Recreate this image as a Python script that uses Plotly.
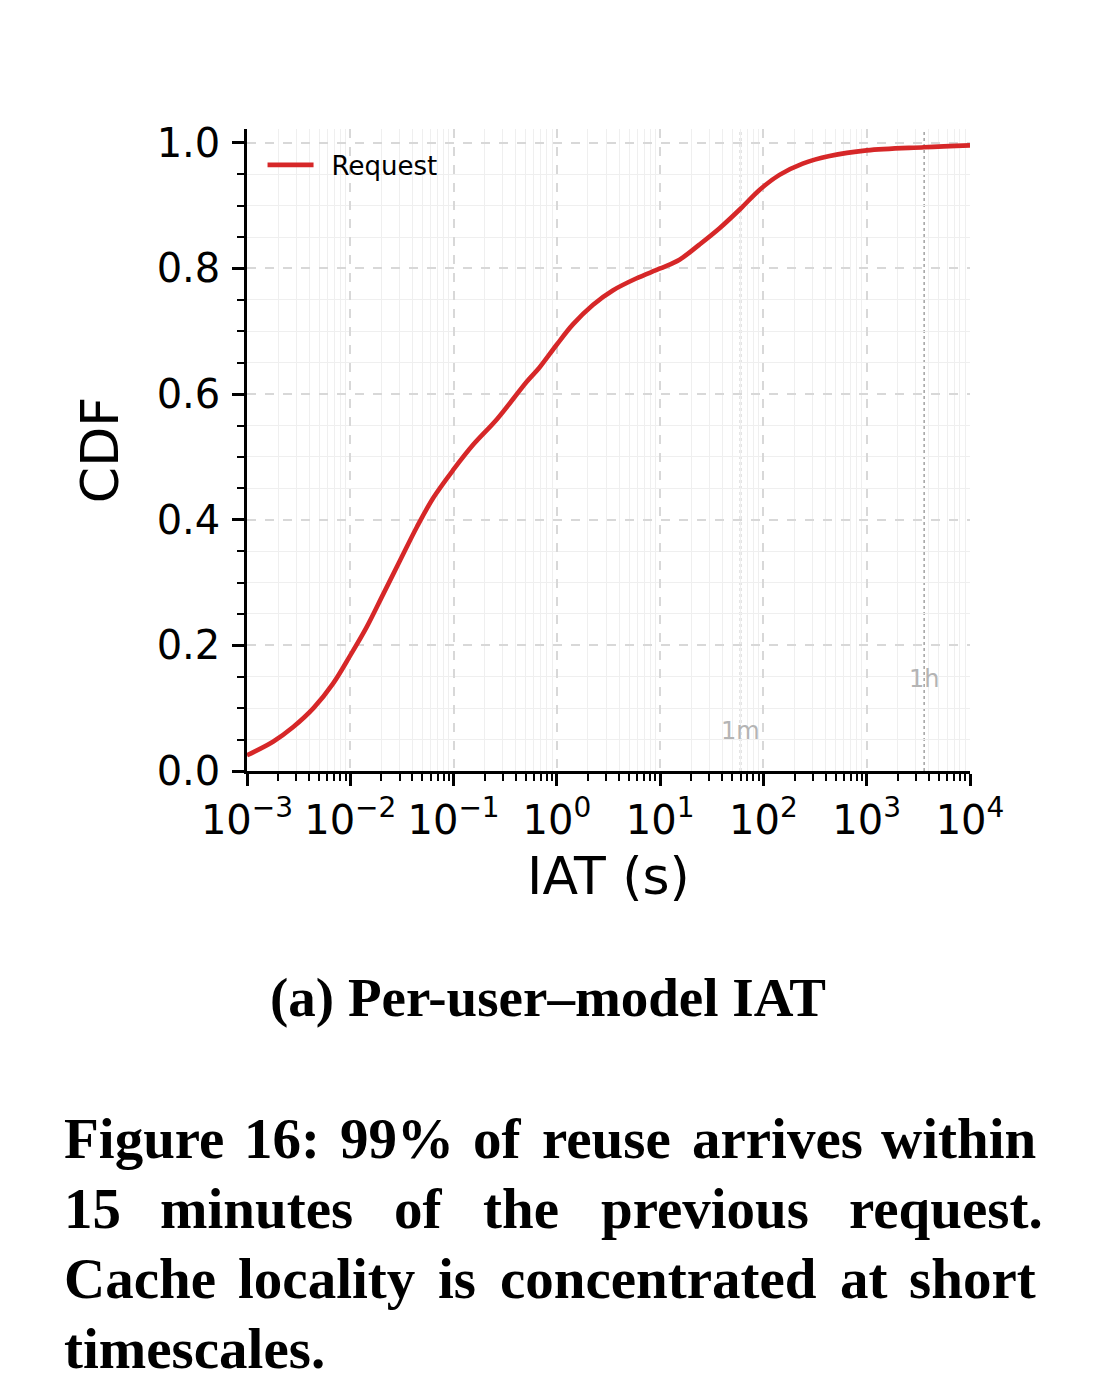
import math
import plotly.graph_objects as go

# ---------------- data ----------------
iat_seconds = [0.001, 0.0018, 0.0028, 0.0044, 0.0068, 0.010, 0.0144, 0.0209, 0.0303,
               0.044, 0.0637, 0.1, 0.156, 0.263, 0.513, 0.676, 1.0, 1.43, 2.23, 3.48,
               5.86, 10, 15.4, 24.0, 37.6, 60, 91.6, 143, 240, 437, 1000, 3600, 10000]
cdf_request = [0.025, 0.047, 0.070, 0.100, 0.139, 0.184, 0.229, 0.282, 0.335,
               0.388, 0.435, 0.480, 0.520, 0.560, 0.620, 0.642, 0.679, 0.711, 0.742, 0.765,
               0.784, 0.800, 0.814, 0.838, 0.864, 0.895, 0.925, 0.949, 0.967, 0.979,
               0.988, 0.993, 0.996]
series_name = "Request"

x_major_vals = [1e-3, 1e-2, 1e-1, 1e0, 1e1, 1e2, 1e3, 1e4]
x_major_text = ["10<sup>−3</sup>", "10<sup>−2</sup>", "10<sup>−1</sup>", "10<sup>0</sup>",
                "10<sup>1</sup>", "10<sup>2</sup>", "10<sup>3</sup>", "10<sup>4</sup>"]
x_minor_vals = [k * 10.0 ** e for e in range(-3, 4) for k in range(2, 10)]
y_major_vals = [0.0, 0.2, 0.4, 0.6, 0.8, 1.0]
y_major_text = ["0.0", "0.2", "0.4", "0.6", "0.8", "1.0"]
y_minor_vals = [0.05, 0.1, 0.15, 0.25, 0.3, 0.35, 0.45, 0.5, 0.55, 0.65, 0.7, 0.75,
                0.85, 0.9, 0.95]

ref_lines_s = [60, 3600]
ref_labels = ["1m", "1h"]
ref_label_y = [0.064, 0.146]

subcaption = "(a) Per-user–model IAT"
caption_line1_words = ["Figure", "16:", "99%", "of", "reuse", "arrives", "within"]
caption_line2_words = ["15", "minutes", "of", "the", "previous", "request."]
caption_line3_words = ["Cache", "locality", "is", "concentrated", "at", "short"]
caption_line4_words = ["timescales."]

# ---------------- layout geometry (screen pixels, page body has 8px margin) ----------------
OFF = 8
W, H = 1101 - 2 * OFF, 1395 - 2 * OFF
L, R, T, B = 247 - OFF, 970 - OFF, 129 - OFF, 771 - OFF


def px(xs):
    return (xs - OFF - L) / (R - L)


def py(ys):
    return (B - (ys - OFF)) / (B - T)


# approximate bold serif (Times-Bold-compatible) advance widths, per 1000 em
BOLD_W = {'F': 611, 'C': 722, 'a': 500, 'c': 444, 'd': 556, 'e': 444, 'f': 333, 'g': 500,
          'h': 556, 'i': 278, 'l': 278, 'm': 833, 'n': 556, 'o': 500, 'p': 556, 'q': 556,
          'r': 444, 's': 389, 't': 333, 'u': 556, 'v': 500, 'w': 722, 'y': 500,
          '1': 500, '5': 500, '6': 500, '9': 500, '%': 1000, ':': 333, '.': 250}


def word_width(word, size):
    return sum(BOLD_W.get(ch, 500) for ch in word) * size / 1000.0


fig = go.Figure()
fig.add_trace(go.Scatter(
    x=iat_seconds, y=cdf_request, mode="lines", name="\u2002" + series_name,
    line=dict(color="#d62728", width=4.6, shape="spline", smoothing=1.0),
))

for xv in ref_lines_s:
    fig.add_shape(type="line", x0=xv, x1=xv, y0=0, y1=1, xref="x", yref="paper",
                  line=dict(color="#a8a8a8", width=1.6, dash="dot"), layer="below")
for xv, lab, yv in zip(ref_lines_s, ref_labels, ref_label_y):
    fig.add_annotation(x=math.log10(xv), y=yv, xref="x", yref="y", text=lab, showarrow=False,
                       font=dict(family="DejaVu Sans", size=24, color="#b4b4b4"),
                       xanchor="center", yanchor="middle")

axis_common = dict(
    showline=True, linecolor="black", linewidth=2.5, mirror=False,
    ticks="outside", ticklen=12, tickwidth=2.5, tickcolor="black",
    tickfont=dict(family="DejaVu Sans", size=40, color="black"),
    showgrid=True, gridcolor="#d8d8d8", gridwidth=1.5, griddash="dash",
    zeroline=False,
)

fig.update_xaxes(
    type="log", range=[-3, 4], tickmode="array", tickvals=x_major_vals, ticktext=x_major_text,
    minor=dict(tickmode="array", tickvals=x_minor_vals, ticks="outside", ticklen=7,
               tickwidth=2, tickcolor="black", showgrid=True, gridcolor="#efefef",
               gridwidth=1, griddash="solid"),
    title=dict(text="IAT (s)", font=dict(family="DejaVu Sans", size=52, color="black"),
               standoff=16),
    **axis_common,
)
fig.update_yaxes(
    range=[0, 1.022], tickmode="array", tickvals=y_major_vals, ticktext=y_major_text,
    ticklabelstandoff=4,
    minor=dict(tickmode="array", tickvals=y_minor_vals, ticks="outside", ticklen=7,
               tickwidth=2, tickcolor="black", showgrid=True, gridcolor="#efefef",
               gridwidth=1, griddash="solid"),
    title=dict(text="CDF", font=dict(family="DejaVu Sans", size=52, color="black"),
               standoff=22),
    **axis_common,
)

CAP_SIZE = 57
serif = dict(family="Liberation Serif", size=CAP_SIZE, color="black")

fig.add_annotation(x=px(548), y=py(998), xref="paper", yref="paper", text="<b>" + subcaption + "</b>",
                   showarrow=False, xanchor="center", yanchor="middle",
                   font=dict(family="Liberation Serif", size=55, color="black"))

# justified caption: left edge, right edge, centre y (screen px)
caption_rows = [
    (caption_line1_words, 62, 1038, 1138, True),
    (caption_line2_words, 62, 1045, 1208, True),
    (caption_line3_words, 62, 1038, 1278, True),
    (caption_line4_words, 62, None, 1348, False),
]
for words, x_left, x_right, yc, justified in caption_rows:
    widths = [word_width(w, CAP_SIZE) for w in words]
    if justified and len(words) > 1:
        gap = (x_right - x_left - sum(widths)) / (len(words) - 1)
    else:
        gap = 0.25 * CAP_SIZE
    xcur = x_left
    for i, (wd, ww) in enumerate(zip(words, widths)):
        if justified and i == len(words) - 1:
            fig.add_annotation(x=px(x_right), y=py(yc), xref="paper", yref="paper",
                               text="<b>" + wd + "</b>", showarrow=False,
                               xanchor="right", yanchor="middle", font=serif)
        elif i == 0:
            fig.add_annotation(x=px(x_left), y=py(yc), xref="paper", yref="paper",
                               text="<b>" + wd + "</b>", showarrow=False,
                               xanchor="left", yanchor="middle", font=serif)
        else:
            fig.add_annotation(x=px(xcur + ww / 2), y=py(yc), xref="paper", yref="paper",
                               text="<b>" + wd + "</b>", showarrow=False,
                               xanchor="center", yanchor="middle", font=serif)
        xcur += ww + gap

fig.update_layout(
    width=W, height=H,
    margin=dict(l=L, r=W - R, t=T, b=H - B, pad=0),
    paper_bgcolor="white", plot_bgcolor="white",
    showlegend=True,
    legend=dict(x=0.0215, y=0.9805, xanchor="left", yanchor="top", bgcolor="rgba(0,0,0,0)",
                itemwidth=46,
                font=dict(family="DejaVu Sans", size=26, color="black"), borderwidth=0),
    font=dict(family="DejaVu Sans"),
)

fig.write_html("out.html")
